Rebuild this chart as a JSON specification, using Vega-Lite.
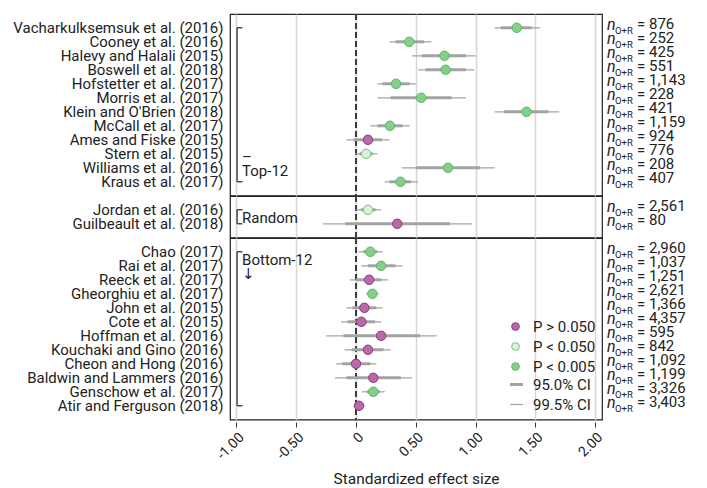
{
  "$schema": "https://vega.github.io/schema/vega-lite/v6.json",
  "padding": {"left": 12, "top": 12, "right": 5, "bottom": 5},
  "background": "white",
  "bounds": "flush",
  "data": {"values": [
    {"kind": "study", "group": "top", "study": "Vacharkulksemsuk et al. (2016)", "est": 1.345, "lo95": 1.21, "hi95": 1.47, "lo99": 1.16, "hi99": 1.54, "p": "P < 0.005", "n": "= 876"},
    {"kind": "study", "group": "top", "study": "Cooney et al. (2016)", "est": 0.445, "lo95": 0.33, "hi95": 0.57, "lo99": 0.28, "hi99": 0.63, "p": "P < 0.005", "n": "= 252"},
    {"kind": "study", "group": "top", "study": "Halevy and Halali (2015)", "est": 0.74, "lo95": 0.55, "hi95": 0.92, "lo99": 0.47, "hi99": 1.0, "p": "P < 0.005", "n": "= 425"},
    {"kind": "study", "group": "top", "study": "Boswell et al. (2018)", "est": 0.75, "lo95": 0.58, "hi95": 0.92, "lo99": 0.52, "hi99": 0.99, "p": "P < 0.005", "n": "= 551"},
    {"kind": "study", "group": "top", "study": "Hofstetter et al. (2017)", "est": 0.335, "lo95": 0.22, "hi95": 0.45, "lo99": 0.18, "hi99": 0.5, "p": "P < 0.005", "n": "= 1,143"},
    {"kind": "study", "group": "top", "study": "Morris et al. (2017)", "est": 0.545, "lo95": 0.29, "hi95": 0.8, "lo99": 0.18, "hi99": 0.92, "p": "P < 0.005", "n": "= 228"},
    {"kind": "study", "group": "top", "study": "Klein and O'Brien (2018)", "est": 1.426, "lo95": 1.24, "hi95": 1.61, "lo99": 1.16, "hi99": 1.7, "p": "P < 0.005", "n": "= 421"},
    {"kind": "study", "group": "top", "study": "McCall et al. (2017)", "est": 0.284, "lo95": 0.18, "hi95": 0.39, "lo99": 0.12, "hi99": 0.45, "p": "P < 0.005", "n": "= 1,159"},
    {"kind": "study", "group": "top", "study": "Ames and Fiske (2015)", "est": 0.1, "lo95": -0.02, "hi95": 0.22, "lo99": -0.08, "hi99": 0.28, "p": "P > 0.050", "n": "= 924"},
    {"kind": "study", "group": "top", "study": "Stern et al. (2015)", "est": 0.085, "lo95": 0.03, "hi95": 0.14, "lo99": -0.01, "hi99": 0.18, "p": "P < 0.050", "n": "= 776"},
    {"kind": "study", "group": "top", "study": "Williams et al. (2016)", "est": 0.77, "lo95": 0.5, "hi95": 1.04, "lo99": 0.385, "hi99": 1.16, "p": "P < 0.005", "n": "= 208"},
    {"kind": "study", "group": "top", "study": "Kraus et al. (2017)", "est": 0.373, "lo95": 0.28, "hi95": 0.46, "lo99": 0.24, "hi99": 0.52, "p": "P < 0.005", "n": "= 407"},
    {"kind": "study", "group": "random", "study": "Jordan et al. (2016)", "est": 0.1, "lo95": 0.04, "hi95": 0.165, "lo99": 0.0, "hi99": 0.21, "p": "P < 0.050", "n": "= 2,561"},
    {"kind": "study", "group": "random", "study": "Guilbeault et al. (2018)", "est": 0.345, "lo95": -0.09, "hi95": 0.785, "lo99": -0.275, "hi99": 0.97, "p": "P > 0.050", "n": "= 80"},
    {"kind": "study", "group": "bottom", "study": "Chao (2017)", "est": 0.12, "lo95": 0.06, "hi95": 0.18, "lo99": 0.02, "hi99": 0.225, "p": "P < 0.005", "n": "= 2,960"},
    {"kind": "study", "group": "bottom", "study": "Rai et al. (2017)", "est": 0.21, "lo95": 0.1, "hi95": 0.33, "lo99": 0.045, "hi99": 0.39, "p": "P < 0.005", "n": "= 1,037"},
    {"kind": "study", "group": "bottom", "study": "Reeck et al. (2017)", "est": 0.11, "lo95": 0.0, "hi95": 0.21, "lo99": -0.05, "hi99": 0.27, "p": "P > 0.050", "n": "= 1,251"},
    {"kind": "study", "group": "bottom", "study": "Gheorghiu et al. (2017)", "est": 0.137, "lo95": 0.1, "hi95": 0.17, "lo99": 0.085, "hi99": 0.19, "p": "P < 0.005", "n": "= 2,621"},
    {"kind": "study", "group": "bottom", "study": "John et al. (2015)", "est": 0.07, "lo95": -0.03, "hi95": 0.17, "lo99": -0.08, "hi99": 0.225, "p": "P > 0.050", "n": "= 1,366"},
    {"kind": "study", "group": "bottom", "study": "Cote et al. (2015)", "est": 0.045, "lo95": -0.07, "hi95": 0.16, "lo99": -0.125, "hi99": 0.21, "p": "P > 0.050", "n": "= 4,357"},
    {"kind": "study", "group": "bottom", "study": "Hoffman et al. (2016)", "est": 0.21, "lo95": -0.105, "hi95": 0.535, "lo99": -0.25, "hi99": 0.675, "p": "P > 0.050", "n": "= 595"},
    {"kind": "study", "group": "bottom", "study": "Kouchaki and Gino (2016)", "est": 0.1, "lo95": -0.035, "hi95": 0.23, "lo99": -0.095, "hi99": 0.29, "p": "P > 0.050", "n": "= 842"},
    {"kind": "study", "group": "bottom", "study": "Cheon and Hong (2016)", "est": 0.0, "lo95": -0.115, "hi95": 0.12, "lo99": -0.165, "hi99": 0.17, "p": "P > 0.050", "n": "= 1,092"},
    {"kind": "study", "group": "bottom", "study": "Baldwin and Lammers (2016)", "est": 0.145, "lo95": -0.08, "hi95": 0.375, "lo99": -0.175, "hi99": 0.47, "p": "P > 0.050", "n": "= 1,199"},
    {"kind": "study", "group": "bottom", "study": "Genschow et al. (2017)", "est": 0.145, "lo95": 0.09, "hi95": 0.2, "lo99": 0.05, "hi99": 0.24, "p": "P < 0.005", "n": "=  3,326"},
    {"kind": "study", "group": "bottom", "study": "Atir and Ferguson (2018)", "est": 0.025, "lo95": 0.0, "hi95": 0.05, "lo99": -0.02, "hi99": 0.07, "p": "P > 0.050", "n": "=  3,403"},
    {"kind": "bracket", "group": "top", "study": "Vacharkulksemsuk et al. (2016)", "study2": "Kraus et al. (2017)"},
    {"kind": "bracket", "group": "random", "study": "Jordan et al. (2016)", "study2": "Guilbeault et al. (2018)"},
    {"kind": "bracket", "group": "bottom", "study": "Chao (2017)", "study2": "Atir and Ferguson (2018)"},
    {"kind": "labelA", "group": "top", "study": "Williams et al. (2016)", "label": "Top-12"},
    {"kind": "labelA", "group": "top", "study": "Stern et al. (2015)", "label": "–"},
    {"kind": "labelB", "group": "random", "study": "Jordan et al. (2016)", "label": "Random"},
    {"kind": "labelB", "group": "bottom", "study": "Chao (2017)", "label": "Bottom-12"},
    {"kind": "labelC", "group": "bottom", "study": "Rai et al. (2017)", "label": "↓"}
  ]},
  "facet": {"row": {"field": "group", "type": "nominal", "sort": ["top", "random", "bottom"], "title": null, "header": {"labels": false, "title": null, "labelPadding": 0, "titlePadding": 0}}},
  "spacing": 0,
  "resolve": {"scale": {"y": "independent"}},
  "spec": {
    "width": 372,
    "height": {"step": 14},
    "encoding": {
      "y": {"field": "study", "type": "nominal", "sort": null, "scale": {"padding": 0.97},
            "axis": {"title": null, "ticks": false, "domain": false, "labelPadding": 7, "labelFontSize": 15, "labelColor": "#222", "labelFont": "Roboto", "labelLimit": 400}}
    },
    "layer": [
      {
        "mark": {"type": "rule", "color": "#3a3a3a", "strokeDash": [6, 3], "strokeWidth": 1.2},
        "encoding": {"x": {"datum": 0, "type": "quantitative", "scale": {"domain": [-1.054, 2.058], "nice": false, "zero": false},
          "axis": {"values": [-1, -0.75, -0.5, -0.25, 0, 0.25, 0.5, 0.75, 1, 1.25, 1.5, 1.75, 2],
                   "labelExpr": "abs(datum.value*2 - round(datum.value*2)) < 0.01 ? (datum.value == 0 ? '0' : replace(format(datum.value, '.2f'), '−', '-')) : ''",
                   "title": "Standardized effect size", "labelAngle": -45, "grid": true, "gridColor": "#d6d6d6", "gridWidth": 1.5,
                   "tickColor": "#333", "tickSize": 5, "offset": 2, "domain": false, "labelFontSize": 14, "labelColor": "#222", "labelFont": "Roboto",
                   "titleFontSize": 15.5, "titleFont": "Roboto", "titleFontWeight": "normal", "titleColor": "#222", "titlePadding": 10, "labelPadding": 3}},
          "y": null}
      },
      {
        "transform": [{"filter": "datum.kind === 'study'"}],
        "mark": {"type": "rule", "color": "#a3a3a3"},
        "encoding": {"x": {"field": "lo99", "type": "quantitative"}, "x2": {"field": "hi99"},
          "strokeWidth": {"datum": "99.5% CI", "type": "ordinal", "scale": {"domain": ["95.0% CI", "99.5% CI"], "range": [3, 1.2]},
            "legend": {"title": null, "orient": "none", "legendX": 278, "legendY": 362, "symbolType": "stroke", "symbolStrokeColor": "#999", "symbolSize": 170, "labelFontSize": 15, "labelFont": "Roboto", "labelColor": "#222", "rowPadding": 4, "padding": 0, "labelOffset": 8}}}
      },
      {
        "transform": [{"filter": "datum.kind === 'study'"}],
        "mark": {"type": "rule", "color": "#a3a3a3"},
        "encoding": {"x": {"field": "lo95", "type": "quantitative"}, "x2": {"field": "hi95"},
          "strokeWidth": {"datum": "95.0% CI", "type": "ordinal"}}
      },
      {
        "transform": [{"filter": "datum.kind === 'study'"}],
        "mark": {"type": "point", "filled": true, "size": 90, "strokeWidth": 1, "opacity": 1},
        "encoding": {"x": {"field": "est", "type": "quantitative"},
          "fill": {"field": "p", "type": "nominal", "scale": {"domain": ["P > 0.050", "P < 0.050", "P < 0.005"], "range": ["#b76aa7", "#d8f1d8", "#86cf8b"]},
            "legend": {"title": null, "orient": "none", "legendX": 278, "legendY": 305, "symbolSize": 60, "labelFontSize": 15, "labelFont": "Roboto", "labelColor": "#222", "rowPadding": 4, "padding": 0, "labelOffset": 10, "symbolStrokeWidth": 1}},
          "stroke": {"field": "p", "type": "nominal", "scale": {"domain": ["P > 0.050", "P < 0.050", "P < 0.005"], "range": ["#8a3a80", "#72c27a", "#59b863"]},
            "legend": {"title": null, "orient": "none", "legendX": 278, "legendY": 305, "symbolSize": 60, "labelFontSize": 15, "labelFont": "Roboto", "labelColor": "#222", "rowPadding": 4, "padding": 0, "labelOffset": 10, "symbolStrokeWidth": 1}}}
      },
      {
        "transform": [{"filter": "datum.kind === 'study'"}],
        "mark": {"type": "text", "text": "n", "fontStyle": "italic", "fontSize": 16, "font": "Roboto", "color": "#222", "align": "left", "baseline": "middle", "dx": 5, "dy": -3},
        "encoding": {"x": {"datum": 2.058}}
      },
      {
        "transform": [{"filter": "datum.kind === 'study'"}],
        "mark": {"type": "text", "text": "O+R", "fontSize": 9.5, "font": "Roboto", "color": "#222", "align": "left", "baseline": "middle", "dx": 13, "dy": 3},
        "encoding": {"x": {"datum": 2.058}}
      },
      {
        "transform": [{"filter": "datum.kind === 'study'"}],
        "mark": {"type": "text", "fontSize": 15, "font": "Roboto", "color": "#222", "align": "left", "baseline": "middle", "dx": 35, "dy": -4},
        "encoding": {"x": {"datum": 2.058}, "text": {"field": "n"}}
      },
      {
        "transform": [{"filter": "datum.kind === 'bracket'"}],
        "mark": {"type": "rule", "color": "#222", "strokeWidth": 1.2},
        "encoding": {"x": {"datum": -0.995}, "y2": {"field": "study2"}}
      },
      {
        "transform": [{"filter": "datum.kind === 'bracket'"}],
        "mark": {"type": "rule", "color": "#222", "strokeWidth": 1.2},
        "encoding": {"x": {"datum": -0.995}, "x2": {"datum": -0.95}}
      },
      {
        "transform": [{"filter": "datum.kind === 'bracket'"}],
        "mark": {"type": "rule", "color": "#222", "strokeWidth": 1.2},
        "encoding": {"x": {"datum": -0.995}, "x2": {"datum": -0.95}, "y": {"field": "study2", "type": "nominal", "sort": null}}
      },
      {
        "transform": [{"filter": "datum.kind === 'labelA'"}],
        "mark": {"type": "text", "fontSize": 15, "font": "Roboto", "color": "#222", "align": "left", "baseline": "middle", "dy": 3},
        "encoding": {"x": {"datum": -0.953}, "text": {"field": "label"}}
      },
      {
        "transform": [{"filter": "datum.kind === 'labelB'"}],
        "mark": {"type": "text", "fontSize": 15, "font": "Roboto", "color": "#222", "align": "left", "baseline": "middle", "dy": 8},
        "encoding": {"x": {"datum": -0.953}, "text": {"field": "label"}}
      },
      {
        "transform": [{"filter": "datum.kind === 'labelC'"}],
        "mark": {"type": "text", "fontSize": 15, "font": "DejaVu Sans", "color": "#222", "align": "left", "baseline": "middle", "dy": 8},
        "encoding": {"x": {"datum": -0.953}, "text": {"field": "label"}}
      }
    ]
  },
  "config": {
    "view": {"stroke": "#222", "strokeWidth": 1.2},
    "font": "Roboto"
  }
}
